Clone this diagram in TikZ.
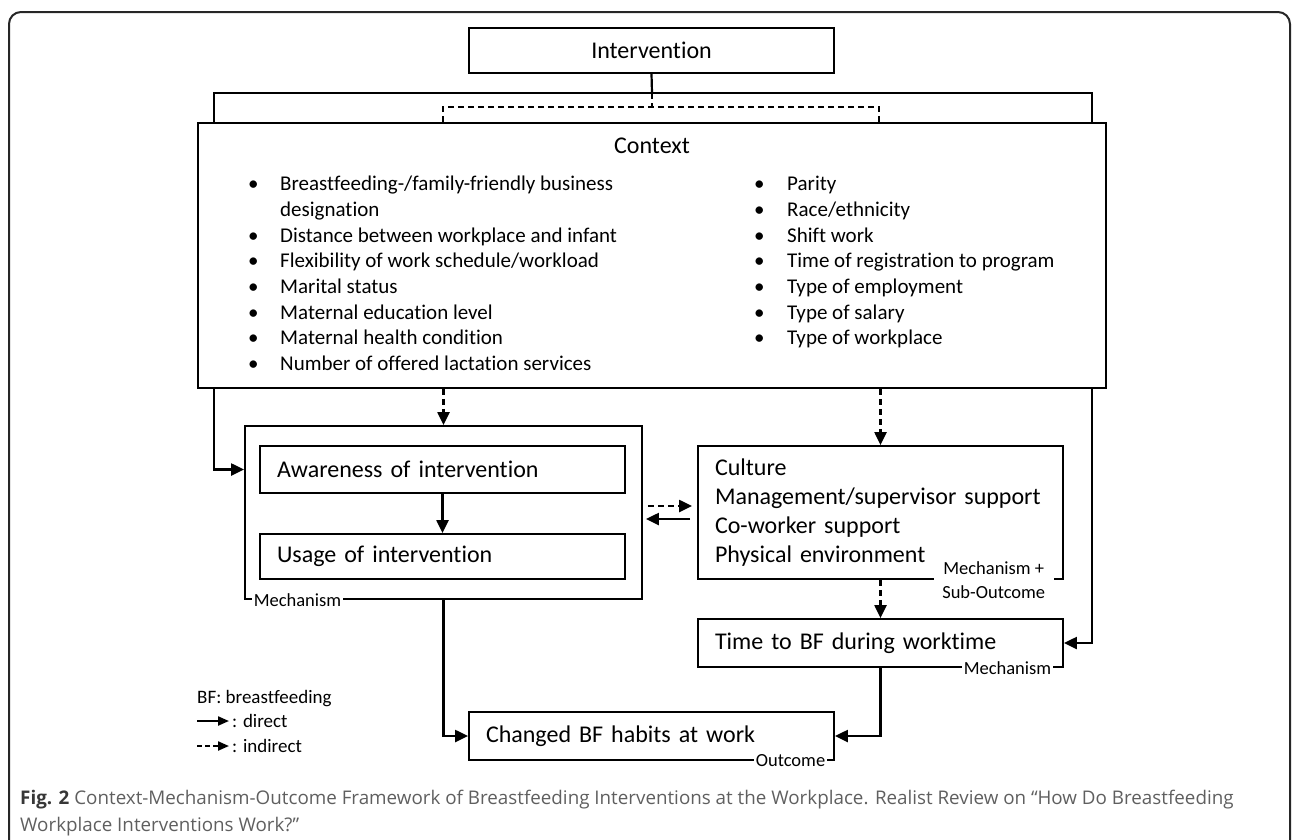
\documentclass[tikz,border=0pt]{standalone}
\usepackage{fontspec}
\setmainfont{Carlito}[Ligatures=NoCommon]
\newfontfamily\capfont{Open Sans}
\usetikzlibrary{arrows.meta, calc, positioning}
\definecolor{capgray}{RGB}{95,95,95}
\definecolor{figgray}{RGB}{55,55,55}
\tikzstyle{box} = [rectangle, draw=black, line width=1.8pt, minimum height=47pt,
	text width=331pt, inner xsep=17pt, align=left, font=\fontsize{24}{29}\selectfont]
\tikzstyle{item} = [inner sep=0pt, anchor=base west, font=\fontsize{21}{25}\selectfont]
\tikzstyle{tag} = [fill=white, inner xsep=1.5pt, inner ysep=0pt, font=\fontsize{18.5}{24}\selectfont]
\tikzstyle{legend} = [inner xsep=3pt, inner ysep=0pt, anchor=base west, font=\fontsize{19}{23}\selectfont]
\tikzstyle{link} = [line width=2.2pt]
\tikzstyle{dlink} = [line width=2.2pt, dash pattern=on 6pt off 4pt]
\tikzstyle{arrow} = [-{Triangle[length=13pt, width=12pt]}]

\begin{document}
\begin{tikzpicture}[x=1pt, y=-1pt]
	\useasboundingbox (0,0) rectangle (1292,839);
	% outer frame
	\draw [rounded corners=12pt, line width=2pt, black!85] (9,850) -- (9,12) -- (1290,12) -- (1290,850);

	% set up nodes
	\node (interv) [box, align=center, minimum height=45pt] at (651.5,50.5) {Intervention};
	\node (context) [rectangle, draw=black, line width=1.8pt, minimum width=908pt, minimum height=265pt] at (652,255.5) {};
	\node (ctitle) [font=\fontsize{24}{29}\selectfont] at (652,146) {Context};
	\node (mech) [rectangle, draw=black, line width=1.8pt, minimum width=397pt, minimum height=173pt] at (443.5,512.5) {};
	\node (aware) [box] at (442.5,469.5) {Awareness of intervention};
	\node (usage) [box, minimum height=45pt] at (442.5,556.5) {Usage of intervention};
	\node (culture) [box, minimum height=133pt] at (880.5,512.5) {Culture\\Management/supervisor support\\Co-worker support\\Physical environment};
	\node (time) [box, minimum height=48pt] at (880.5,643) {Time to BF during worktime};
	\node (changed) [box, minimum height=48pt] at (651.5,736) {Changed BF habits at work};

	% context factors
	\foreach \y/\txt [count=\i] in {183/{Breastfeeding-/family-friendly business}, 235/{Distance between workplace and infant},
		260/{Flexibility of work schedule/workload}, 286/{Marital status}, 312/{Maternal education level},
		337/{Maternal health condition}, 363/{Number of offered lactation services}}
	{
		\node (lb\i) [item] at (248,\y+7) {\textbullet};
		\node (lt\i) [item] at (280,\y+7) {\txt};
	}
	\node (lt0) [item] at (280,216) {designation};
	\foreach \y/\txt [count=\i] in {183/{Parity}, 209/{Race/ethnicity}, 235/{Shift work},
		260/{Time of registration to program}, 286/{Type of employment}, 312/{Type of salary}, 337/{Type of workplace}}
	{
		\node (rb\i) [item] at (754,\y+7) {\textbullet};
		\node (rt\i) [item] at (787,\y+7) {\txt};
	}

	% box labels
	\node (mlab1) [tag, anchor=west] at ([xshift=8pt]mech.south west) {Mechanism};
	\node (mlab2) [tag, anchor=east] at ([xshift=-11pt]time.south east) {Mechanism};
	\node (olab) [tag, anchor=east] at ([xshift=-8pt]changed.south east) {Outcome};
	\node (slab) [tag, anchor=east, align=center, inner xsep=8.5pt] at ([xshift=-10pt]culture.south east) {Mechanism +\\Sub-Outcome};

	% intervention to context
	\coordinate (split) at (652,93);
	\coordinate (tl) at (214,93);
	\coordinate (tr) at (1092,93);
	\coordinate (dl) at (443,107);
	\coordinate (dr) at (879,107);
	\draw [link] (interv.south) -- (split);
	\draw [link] (tl |- context.north) -- (tl) -- (tr) -- (tr |- context.north);
	\draw [dlink] (split) -- (split |- dl);
	\draw [dlink] (dl |- context.north) -- (dl) -- (dr) -- (dr |- context.north);

	% context to mechanisms and outcome
	\draw [link, arrow] (tl |- context.south) |- (mech.west |- aware.west);
	\draw [dlink, arrow] (mech.north |- context.south) -- (mech.north);
	\draw [dlink, arrow] (culture.north |- context.south) -- (culture.north);
	\draw [link, arrow] (tr |- context.south) |- (time.east);
	\draw [link, arrow] (aware.south) -- (usage.north);
	\draw [dlink, arrow, shorten <=5pt, shorten >=5pt] ([yshift=6.5pt]mech.east) -- ([yshift=6.5pt]mech.east -| culture.west);
	\draw [link, arrow, shorten <=7pt, shorten >=3pt] ([yshift=-6.5pt]culture.west) -- ([yshift=-6.5pt]culture.west -| mech.east);
	\draw [dlink, arrow] (culture.south) -- (time.north);
	\draw [link, arrow] (mech.south) |- (changed.west);
	\draw [link, arrow] (time.south) |- (changed.east);

	% legend
	\node (lgbf) [legend] at (194,703) {BF: breastfeeding};
	\coordinate (lga) at (197,721);
	\coordinate (lgb) at (197,746);
	\node (lgdir) [legend] at (229,727) {: direct};
	\node (lgind) [legend] at (229,752) {: indirect};
	\draw [link, -{Triangle[length=11pt, width=9pt]}] (lga) -- (lga -| lgdir.west);
	\draw [dlink, dash pattern=on 5pt off 3pt, -{Triangle[length=11pt, width=9pt]}] (lgb) -- (lgb -| lgind.west);

	% caption
	\node (cap) [anchor=north west, align=left, inner sep=0pt, text=capgray,
		font=\capfont\fontsize{18.8}{27}\selectfont] at (20,790) {\textbf{\color{figgray}Fig. 2} Context-Mechanism-Outcome Framework of Breastfeeding Interventions at the Workplace. Realist Review on “How Do Breastfeeding\\Workplace Interventions Work?”};
\end{tikzpicture}
\end{document}
